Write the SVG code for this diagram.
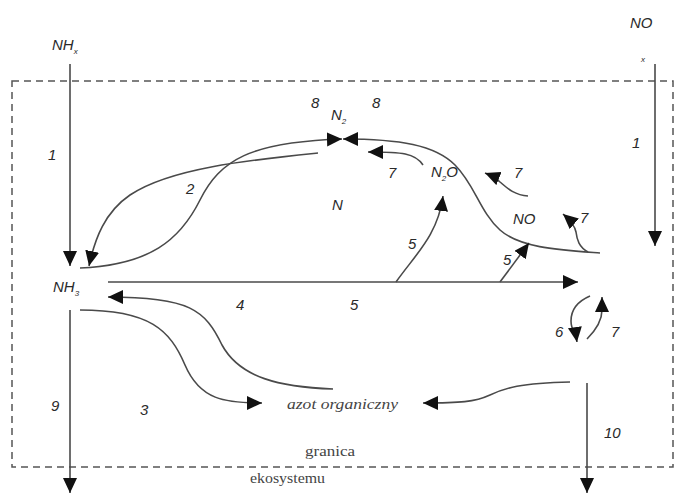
<svg xmlns="http://www.w3.org/2000/svg" width="682" height="494" viewBox="0 0 682 494">
<style>
.ln{fill:none;stroke:#4a4a4a;stroke-width:1.6}
.ar{marker-end:url(#ah)}
.lb{font-family:"Liberation Sans","DejaVu Sans",sans-serif;font-style:italic;font-size:15px;fill:#2a2a2a}
.sub{font-size:8px}
.sf{font-family:"Liberation Serif","DejaVu Serif",serif;fill:#444;font-size:15px}
</style>
<defs>
<marker id="ah" markerUnits="userSpaceOnUse" markerWidth="16" markerHeight="16" refX="15" refY="7" orient="auto" viewBox="0 0 16 16">
<path d="M0,0 L15,7 L0,14 z" fill="#111"/>
</marker>
</defs>
<rect x="12" y="81" width="661" height="386" fill="none" stroke="#555" stroke-width="1.5" stroke-dasharray="7,5"/>
<g id="connectors">
<path class="ln ar" d="M70,64 L70,266"/>
<path class="ln ar" d="M655,64 L655,246"/>
<path class="ln ar" d="M70,310 L70,493"/>
<path class="ln ar" d="M587,383 L587,493"/>
<path class="ln ar" d="M108,282 L578,282"/>
<path class="ln ar" d="M80,268 C150,265 180,240 200,200 C220,160 250,142 342,139"/>
<path class="ln ar" d="M318,153 C250,160 170,168 130,195 C105,212 95,238 89,266"/>
<path class="ln ar" d="M600,253 C560,250 520,248 500,230 C480,212 475,185 455,165 C435,145 400,139 343,139"/>
<path class="ln ar" d="M423,165 C415,153 402,152 368,152"/>
<path class="ln ar" d="M528,196 C513,195 505,186 500,182 C495,177 490,175 485,173"/>
<path class="ln ar" d="M588,252 C579,247 577,240 576,232 C575,226 571,221 563,214"/>
<path class="ln ar" d="M396,282 C415,255 438,235 443,196"/>
<path class="ln ar" d="M500,282 L529,243"/>
<path class="ln ar" d="M333,389 C280,387 240,378 222,345 C205,310 190,297 108,297"/>
<path class="ln ar" d="M80,310 C150,310 170,330 185,365 C200,400 225,403 262,403"/>
<path class="ln ar" d="M570,382 C520,383 505,388 490,395 C475,402 460,403 423,403"/>
<path class="ln ar" d="M590,296 C576,302 571,311 571,321 C571,330 576,335 577,342"/>
<path class="ln ar" d="M587,339 C596,330 602,320 602,310 L602,297"/>
</g>
<g id="nhx"><text class="lb" x="52" y="50">NH<tspan class="sub" dy="4">x</tspan></text></g>
<g id="nox"><text class="lb" x="630" y="28">NO</text><text class="lb sub" x="641" y="62">x</text></g>
<g id="n2"><text class="lb" x="331" y="120">N<tspan class="sub" dy="4">2</tspan></text></g>
<g id="n2o"><text class="lb" x="431" y="177">N<tspan class="sub" dy="4">2</tspan><tspan dy="-4">O</tspan></text></g>
<g id="no"><text class="lb" x="513" y="224">NO</text></g>
<g id="n"><text class="lb" x="332" y="210">N</text></g>
<g id="nh3"><text class="lb" x="53" y="292">NH<tspan class="sub" dy="4">3</tspan></text></g>
<g id="azot"><text class="sf" x="287" y="409" font-style="italic" font-size="17" textLength="111" lengthAdjust="spacingAndGlyphs">azot organiczny</text></g>
<g id="granica"><text class="sf" x="305" y="456" textLength="50" lengthAdjust="spacingAndGlyphs">granica</text><text class="sf" x="250" y="483" textLength="75" lengthAdjust="spacingAndGlyphs">ekosystemu</text></g>
<g id="labels">
<text class="lb" x="48" y="160">1</text>
<text class="lb" x="632" y="148">1</text>
<text class="lb" x="311" y="108">8</text>
<text class="lb" x="372" y="108">8</text>
<text class="lb" x="186" y="194">2</text>
<text class="lb" x="388" y="178">7</text>
<text class="lb" x="514" y="178">7</text>
<text class="lb" x="580" y="223">7</text>
<text class="lb" x="408" y="249">5</text>
<text class="lb" x="503" y="265">5</text>
<text class="lb" x="236" y="310">4</text>
<text class="lb" x="350" y="310">5</text>
<text class="lb" x="555" y="337">6</text>
<text class="lb" x="611" y="337">7</text>
<text class="lb" x="51" y="411">9</text>
<text class="lb" x="140" y="415">3</text>
<text class="lb" x="604" y="438">10</text>
</g>
</svg>
